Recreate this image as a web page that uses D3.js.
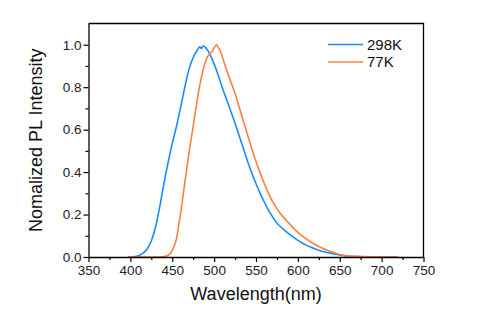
<!DOCTYPE html>
<html>
<head>
<meta charset="utf-8">
<script src="https://cdn.jsdelivr.net/npm/d3@7"></script>
<style>
  body { margin: 0; background: white; }
  text { font-family: "Liberation Sans", Arial, sans-serif; }
</style>
</head>
<body>
<svg id="chart"></svg>
<script>
// wavelength (nm) and normalized intensity
var wl298 = [397, 400, 405, 410, 415, 420, 425, 430, 435, 440, 445, 450, 455, 460, 465, 470, 475, 480, 483, 485, 487, 490, 493, 495, 500, 505, 510, 515, 520, 525, 530, 535, 540, 545, 550, 555, 560, 565, 570, 575, 580, 585, 590, 595, 600, 605, 610, 615, 620, 625, 630, 635, 640, 645, 650, 655, 660, 670, 680, 700, 720]
var pl298 = [0, 0, 0.002, 0.006, 0.018, 0.038, 0.075, 0.14, 0.235, 0.345, 0.445, 0.535, 0.615, 0.705, 0.80, 0.885, 0.94, 0.975, 0.99, 0.982, 0.995, 0.985, 0.97, 0.955, 0.91, 0.855, 0.795, 0.74, 0.685, 0.63, 0.57, 0.51, 0.45, 0.395, 0.345, 0.30, 0.258, 0.22, 0.188, 0.16, 0.14, 0.123, 0.107, 0.092, 0.078, 0.066, 0.056, 0.047, 0.039, 0.032, 0.026, 0.021, 0.017, 0.013, 0.009, 0.006, 0.004, 0.002, 0.001, 0, 0]

var wl77 = [397, 400, 410, 420, 430, 435, 440, 445, 450, 452, 455, 457, 460, 465, 470, 475, 480, 485, 490, 495, 498, 500, 503, 505, 507, 510, 515, 520, 525, 530, 535, 540, 545, 550, 555, 560, 565, 570, 575, 580, 585, 590, 595, 600, 605, 610, 615, 620, 625, 630, 635, 640, 645, 650, 655, 660, 670, 680, 690, 700, 720]
var pl77 = [0, 0, 0, 0, 0, 0, 0.002, 0.008, 0.03, 0.05, 0.085, 0.13, 0.205, 0.35, 0.49, 0.615, 0.745, 0.85, 0.925, 0.96, 0.97, 0.985, 1.0, 0.985, 0.975, 0.94, 0.88, 0.825, 0.77, 0.705, 0.64, 0.575, 0.51, 0.45, 0.395, 0.345, 0.30, 0.26, 0.228, 0.2, 0.177, 0.156, 0.135, 0.116, 0.099, 0.085, 0.072, 0.06, 0.049, 0.04, 0.032, 0.025, 0.018, 0.012, 0.008, 0.005, 0.003, 0.002, 0.001, 0, 0]

var xTicks = [350, 400, 450, 500, 550, 600, 650, 700, 750]
var yTicks = [0.0, 0.2, 0.4, 0.6, 0.8, 1.0]
var seriesNames = ["298K", "77K"]
var seriesColors = ["#1a8aff", "#ff7f3f"]

var width = 481, height = 313
var plotLeft = 88.5, plotRight = 423.5, plotTop = 23.5, plotBottom = 257

var svg = d3.select("#chart")
    .attr("width", width)
    .attr("height", height)

var xScale = d3.scaleLinear()
    .domain([350, 750])
    .range([plotLeft, plotRight])

var yScale = d3.scaleLinear()
    .domain([0, 1.1])
    .range([plotBottom, plotTop])

var series = [
    d3.zip(wl298, pl298),
    d3.zip(wl77, pl77)
]

var line = d3.line()
    .x(d => xScale(d[0]))
    .y(d => yScale(d[1]))
    .curve(d3.curveMonotoneX)

svg.selectAll("path.line")
    .data(series)
    .join("path")
    .attr("class", "line")
    .attr("fill", "none")
    .attr("stroke", (d, i) => seriesColors[i])
    .attr("stroke-width", 1.6)
    .attr("stroke-linejoin", "round")
    .attr("d", line)

// frame: top and right edges
svg.append("path")
    .attr("d", "M" + plotLeft + "," + plotTop + "H" + plotRight + "V" + plotBottom)
    .attr("fill", "none")
    .attr("stroke", "black")
    .attr("stroke-width", 1.3)

// minor ticks
var xMinor = d3.range(375, 750, 50)
svg.append("g")
    .attr("transform", "translate(0," + plotBottom + ")")
    .call(d3.axisBottom(xScale).tickValues(xMinor).tickSize(3).tickFormat(""))
    .call(g => g.select(".domain").remove())
    .selectAll("line").attr("stroke-width", 1.2)

var yMinor = [0.1, 0.3, 0.5, 0.7, 0.9]
svg.append("g")
    .attr("transform", "translate(" + plotLeft + ",0)")
    .call(d3.axisLeft(yScale).tickValues(yMinor).tickSize(3).tickFormat(""))
    .call(g => g.select(".domain").remove())
    .selectAll("line").attr("stroke-width", 1.2)

// major axes
var xAxis = svg.append("g")
    .attr("transform", "translate(0," + plotBottom + ")")
    .call(d3.axisBottom(xScale).tickValues(xTicks).tickSize(5).tickSizeOuter(0).tickPadding(3))
xAxis.select(".domain").attr("stroke-width", 1.3)
xAxis.selectAll("line").attr("stroke-width", 1.2)
xAxis.selectAll("text")
    .style("font-size", "13.5px")
    .style("font-family", "Liberation Sans, Arial, sans-serif")
    .attr("fill", "#222")

var yAxis = svg.append("g")
    .attr("transform", "translate(" + plotLeft + ",0)")
    .call(d3.axisLeft(yScale).tickValues(yTicks).tickSize(5).tickSizeOuter(0).tickPadding(2).tickFormat(d3.format(".1f")))
yAxis.select(".domain").attr("stroke-width", 1.3)
yAxis.selectAll("line").attr("stroke-width", 1.2)
yAxis.selectAll("text")
    .style("font-size", "13.5px")
    .style("font-family", "Liberation Sans, Arial, sans-serif")
    .attr("fill", "#222")

// axis titles
svg.append("text")
    .attr("x", (plotLeft + plotRight) / 2)
    .attr("y", 300)
    .attr("text-anchor", "middle")
    .style("font-size", "18px")
    .attr("fill", "#111")
    .text("Wavelength(nm)")

svg.append("text")
    .attr("transform", "translate(42," + (plotTop + plotBottom) / 2 + ") rotate(-90)")
    .attr("text-anchor", "middle")
    .style("font-size", "18px")
    .attr("fill", "#111")
    .text("Nomalized PL Intensity")

// legend
var legend = svg.selectAll("g.legend")
    .data(seriesNames)
    .join("g")
    .attr("class", "legend")
    .attr("transform", (d, i) => "translate(328," + (44.5 + i * 17.5) + ")")

legend.append("line")
    .attr("x1", 0)
    .attr("x2", 35)
    .attr("stroke", (d, i) => seriesColors[i])
    .attr("stroke-width", 1.6)

legend.append("text")
    .attr("x", 39)
    .attr("dy", "0.36em")
    .style("font-size", "15px")
    .attr("fill", "#111")
    .text(d => d)
</script>
</body>
</html>
